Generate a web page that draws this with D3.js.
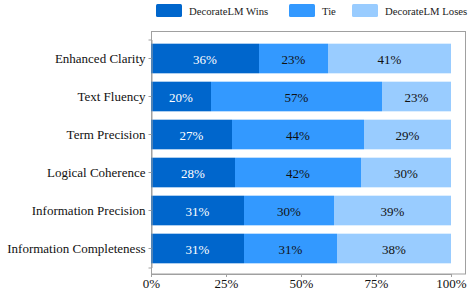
<!DOCTYPE html>
<html>
<head>
<meta charset="utf-8">
<script src="https://cdn.jsdelivr.net/npm/d3@7"></script>
<style>
  body { margin: 0; background: #fff; }
</style>
</head>
<body>
<div id="chart"></div>
<script>
// Categories (top to bottom) and shares per outcome
const categories = ["Enhanced Clarity", "Text Fluency", "Term Precision", "Logical Coherence", "Information Precision", "Information Completeness"];
const wins = [36, 20, 27, 28, 31, 31];
const ties = [23, 57, 44, 42, 30, 31];
const loses = [41, 23, 29, 30, 39, 38];
const seriesNames = ["DecorateLM Wins", "Tie", "DecorateLM Loses"];
const colors = ["#0066CC", "#3399FF", "#99CCFF"];
const xTicks = [0, 25, 50, 75, 100];

const W = 470, H = 294;
const fontFam = "'Liberation Serif', 'Times New Roman', serif";
const svg = d3.select("#chart").append("svg").attr("width", W).attr("height", H)
    .style("font-family", fontFam);

const x = d3.scaleLinear().domain([0, 100]).range([151, 451]);
const y = d3.scaleBand().domain(categories).range([39.5, 267.5]).paddingInner(0.22).paddingOuter(0.11);

// frame
svg.append("rect")
    .attr("x", 151.5).attr("y", 31.5)
    .attr("width", 314).attr("height", 242.5)
    .attr("fill", "none").attr("stroke", "#a0a0a0").attr("stroke-width", 1);

// stacked bars
const rows = categories.map((c, i) => ({ cat: c, vals: [wins[i], ties[i], loses[i]] }));
rows.forEach(function (r) {
    let acc = 0;
    r.vals.forEach(function (v, k) {
        const x0 = x(acc), x1 = x(acc + v);
        svg.append("rect")
            .attr("x", x0).attr("y", y(r.cat))
            .attr("width", x1 - x0).attr("height", y.bandwidth())
            .attr("fill", colors[k]);
        svg.append("text")
            .attr("x", (x0 + x1) / 2).attr("y", y(r.cat) + y.bandwidth() / 2 + 5)
            .attr("text-anchor", "middle")
            .style("font-family", fontFam)
            .style("font-size", "13px")
            .attr("fill", k == 0 ? "#fff" : "#111")
            .text(v + "%");
        acc += v;
    });
});

// y axis
const yAxis = svg.append("g").attr("transform", "translate(151.5,0)")
    .call(d3.axisLeft(y).tickSize(3).tickPadding(3));
yAxis.select(".domain").attr("stroke", "#a0a0a0");
yAxis.selectAll(".tick line").attr("stroke", "#a0a0a0");
yAxis.selectAll(".tick text").style("font-family", fontFam).style("font-size", "13px").attr("fill", "#111");

// x axis
const xAxis = svg.append("g").attr("transform", "translate(0,274)")
    .call(d3.axisBottom(x).tickValues(xTicks).tickFormat(d => d + "%").tickSize(3).tickPadding(2));
xAxis.select(".domain").attr("stroke", "#a0a0a0");
xAxis.selectAll(".tick line").attr("stroke", "#a0a0a0");
xAxis.selectAll(".tick text").style("font-family", fontFam).style("font-size", "13px").attr("fill", "#111");

// legend
const legendX = [156, 289, 352];
seriesNames.forEach(function (name, k) {
    svg.append("rect")
        .attr("x", legendX[k]).attr("y", 4)
        .attr("width", 26).attr("height", 13)
        .attr("rx", 1.5)
        .attr("fill", colors[k]);
    svg.append("text")
        .attr("x", legendX[k] + 33).attr("y", 14.5)
        .style("font-family", fontFam)
        .style("font-size", "10.7px")
        .attr("fill", "#222")
        .text(name);
});
</script>
</body>
</html>
